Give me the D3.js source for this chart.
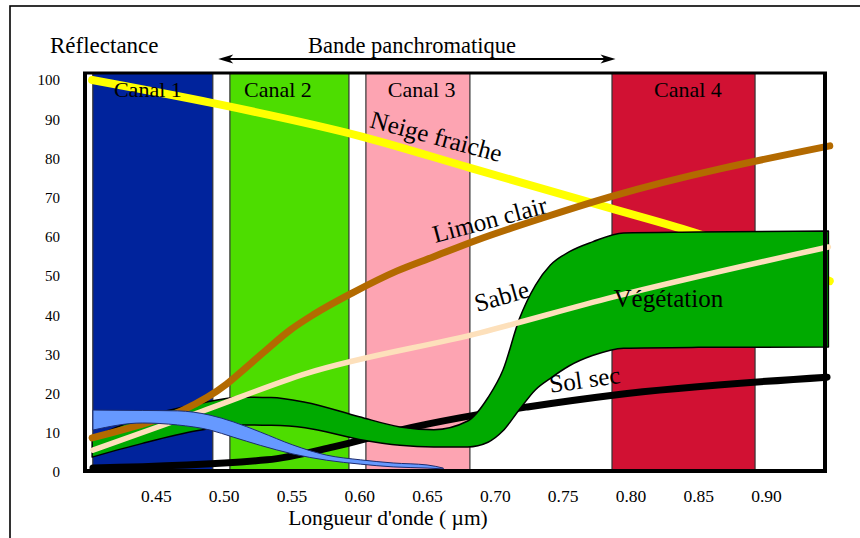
<!DOCTYPE html>
<html>
<head>
<meta charset="utf-8">
<script src="https://cdn.jsdelivr.net/npm/d3@7"></script>
<style>
  body { margin: 0; background: #fff; }
  svg text { font-family: "Liberation Serif", "Times New Roman", serif; fill: #000; }
</style>
</head>
<body>
<div id="chart"></div>
<script>
/** spectral bands (µm) */
let canalNames = ['Canal 1', 'Canal 2', 'Canal 3', 'Canal 4'];
let canalStart = [0.4035, 0.5046, 0.6049, 0.7864];
let canalEnd = [0.4920, 0.5924, 0.6816, 0.8919];
let canalLabelAt = [0.4441, 0.540, 0.646, 0.8424];
let canalColors = ['#00239c', '#4ddd00', '#fda4b2', '#d11133'];
let panchro = [0.496, 0.789];

let xTicks = [0.45, 0.50, 0.55, 0.60, 0.65, 0.70, 0.75, 0.80, 0.85, 0.90];
let yTicks = [0, 10, 20, 30, 40, 50, 60, 70, 80, 90, 100];

/** reflectance curves */
let neigeW = [0.403, 0.492, 0.6005, 0.6817, 0.785, 0.846, 0.947];
let neigeR = [100, 94.1, 85.7, 77.6, 67.3, 61.2, 48.7];

let limonW = [0.403, 0.433, 0.470, 0.502, 0.512, 0.529, 0.549, 0.566, 0.595, 0.628, 0.654, 0.687, 0.735, 0.785, 0.947];
let limonR = [8.7, 11.5, 15.8, 22.4, 25.3, 30.4, 36.2, 40.1, 45.7, 51.3, 54.8, 59.2, 64.8, 70.2, 83.2];

let sableW = [0.4036, 0.4826, 0.5607, 0.689, 0.787, 0.946];
let sableR = [5.6, 15.3, 25.1, 35.5, 44.6, 57.4];

let solW = [0.4036, 0.532, 0.581, 0.630, 0.674, 0.724, 0.787, 0.945];
let solR = [1.0, 3.1, 6.4, 10.7, 13.8, 16.6, 19.6, 24.2];

let vegW = [0.403, 0.44, 0.48, 0.512, 0.535, 0.56, 0.60, 0.63, 0.655, 0.68, 0.695, 0.706, 0.718, 0.73, 0.741, 0.755, 0.772, 0.795, 0.85, 0.946];
let vegHigh = [8.7, 13.9, 17.3, 19.1, 19.0, 17.8, 14.1, 11.5, 10.8, 13.0, 19.0, 26.0, 39.0, 47.7, 52.8, 56.2, 58.7, 61.0, 61.2, 61.5];
let vegLow = [3.8, 7.3, 10.5, 12.0, 11.9, 11.3, 8.3, 6.8, 6.4, 6.4, 7.6, 10.5, 15.9, 21.0, 23.9, 27.1, 29.7, 31.6, 31.8, 31.9];

let eauW = [0.4036, 0.44, 0.466, 0.49, 0.507, 0.527, 0.551, 0.576, 0.601, 0.625, 0.65, 0.662];
let eauHigh = [15.8, 15.7, 15.6, 14.5, 12.8, 10.2, 6.9, 4.3, 3.1, 2.3, 1.8, 1.0];
let eauLow = [10.7, 12.5, 12.0, 10.7, 8.9, 6.8, 4.6, 3.0, 2.0, 1.3, 1.0, 0.8];

let curveLabels = ['Neige fraiche', 'Limon clair', 'Sable', 'Végétation', 'Sol sec'];
let labelW = [0.607, 0.656, 0.687, 0.828, 0.741];
let labelR = [88.0, 58.4, 40.8, 42.1, 20.2];
let labelAngle = [15, -15, -16, 0, -8];

/** set up svg */
let width = 860;
let height = 538;
let plot = { left: 85, right: 825, top: 73, bottom: 471 };
let serif = '"Liberation Serif", "Times New Roman", serif';

let svg = d3.select('#chart')
  .append('svg')
  .attr('width', width)
  .attr('height', height);

// outer frame (only top and left edges show)
svg.append('rect')
  .attr('x', 10).attr('y', 6)
  .attr('width', 900).attr('height', 600)
  .attr('fill', 'none')
  .attr('stroke', '#000')
  .attr('stroke-width', 1.6);

/** scales */
let x = d3.scaleLinear().domain([0.397, 0.9457]).range([84, 828]);
let y = d3.scaleLinear().domain([0, 100]).range([472, 80]);

let zip = (ws, rs) => ws.map((w, i) => [w, rs[i]]);

// bands
svg.selectAll('.canal')
  .data(canalNames)
  .enter()
  .append('rect')
  .attr('class', 'canal')
  .attr('x', (d, i) => x(canalStart[i]))
  .attr('width', (d, i) => x(canalEnd[i]) - x(canalStart[i]))
  .attr('y', plot.top)
  .attr('height', plot.bottom - plot.top)
  .attr('fill', (d, i) => canalColors[i])
  .attr('stroke', '#333')
  .attr('stroke-width', 1.2);

/** curves */
let line = d3.line()
  .x(d => x(d[0]))
  .y(d => y(d[1]))
  .curve(d3.curveMonotoneX);

let band = d3.area()
  .x(d => x(d[0]))
  .y0(d => y(d[2]))
  .y1(d => y(d[1]))
  .curve(d3.curveMonotoneX);

let drawLine = function (ws, rs, color, w) {
  svg.append('path')
    .datum(zip(ws, rs))
    .attr('d', line)
    .attr('fill', 'none')
    .attr('stroke', color)
    .attr('stroke-width', w)
    .attr('stroke-linecap', 'round')
    .attr('stroke-linejoin', 'round');
}

drawLine(neigeW, neigeR, '#ffff00', 8);
drawLine(solW, solR, '#000', 7);

svg.append('path')
  .datum(vegW.map((w, i) => [w, vegHigh[i], vegLow[i]]))
  .attr('d', band)
  .attr('fill', '#00aa00')
  .attr('stroke', '#000')
  .attr('stroke-width', 1.5)
  .attr('stroke-linejoin', 'round');

drawLine(limonW, limonR, '#b36a00', 7);
drawLine(sableW, sableR, '#fde0bb', 5.5);

svg.append('path')
  .datum(eauW.map((w, i) => [w, eauHigh[i], eauLow[i]]))
  .attr('d', band)
  .attr('fill', '#6699ff')
  .attr('stroke', '#1c2c70')
  .attr('stroke-width', 1)
  .attr('stroke-linejoin', 'round');

/** plot frame */
svg.append('line')
  .attr('x1', plot.left - 2).attr('x2', plot.right + 2)
  .attr('y1', plot.top).attr('y2', plot.top)
  .attr('stroke', '#000').attr('stroke-width', 3);
svg.append('line')
  .attr('x1', plot.left).attr('x2', plot.left)
  .attr('y1', plot.top).attr('y2', plot.bottom + 2)
  .attr('stroke', '#000').attr('stroke-width', 4);
svg.append('line')
  .attr('x1', plot.right).attr('x2', plot.right)
  .attr('y1', plot.top).attr('y2', plot.bottom + 2)
  .attr('stroke', '#000').attr('stroke-width', 4);
svg.append('line')
  .attr('x1', plot.left - 2).attr('x2', plot.right + 2)
  .attr('y1', plot.bottom).attr('y2', plot.bottom)
  .attr('stroke', '#000').attr('stroke-width', 4);

// band labels sit over the curves
svg.selectAll('.canal-label')
  .data(canalNames)
  .enter()
  .append('text')
  .attr('class', 'canal-label')
  .attr('x', (d, i) => x(canalLabelAt[i]))
  .attr('y', 97)
  .attr('text-anchor', 'middle')
  .attr('font-family', serif)
  .style('font-size', '22px')
  .text(d => d);

/** axes */
let xAxis = svg.append('g')
  .attr('transform', 'translate(0,472)')
  .attr('font-family', serif)
  .call(d3.axisBottom(x).tickValues(xTicks).tickFormat(d3.format('.2f')).tickSize(0).tickPadding(18));
xAxis.attr('font-family', serif);
xAxis.select('.domain').remove();
xAxis.selectAll('text')
  .attr('font-family', serif)
  .style('font-size', '17.5px')
  .attr('fill', '#000');

let yAxis = svg.append('g')
  .attr('transform', 'translate(84,0)')
  .call(d3.axisLeft(y).tickValues(yTicks).tickSize(0).tickPadding(24));
yAxis.attr('font-family', serif);
yAxis.select('.domain').remove();
yAxis.selectAll('text')
  .attr('font-family', serif)
  .style('font-size', '15px')
  .attr('fill', '#000');

/** titles */
svg.append('text')
  .attr('x', 50).attr('y', 53)
  .attr('font-family', serif)
  .style('font-size', '23px')
  .text('Réflectance');

svg.append('text')
  .attr('x', 412).attr('y', 53)
  .attr('text-anchor', 'middle')
  .attr('font-family', serif)
  .style('font-size', '22.5px')
  .text('Bande panchromatique');

svg.append('text')
  .attr('x', 388).attr('y', 525)
  .attr('text-anchor', 'middle')
  .attr('font-family', serif)
  .style('font-size', '21.5px')
  .text("Longueur d'onde ( µm)");

// panchromatic arrow
let ax1 = x(panchro[0]);
let ax2 = x(panchro[1]);
svg.append('line')
  .attr('x1', ax1 + 4).attr('x2', ax2 - 4)
  .attr('y1', 59).attr('y2', 59)
  .attr('stroke', '#000').attr('stroke-width', 2);
let head = (tip, dir) => `M${tip},59 L${tip + dir * 15},54.5 L${tip + dir * 11},59 L${tip + dir * 15},63.5 Z`;
svg.append('path').attr('d', head(ax1, 1)).attr('fill', '#000');
svg.append('path').attr('d', head(ax2, -1)).attr('fill', '#000');

/** curve labels */
svg.selectAll('.curve-label')
  .data(curveLabels)
  .enter()
  .append('text')
  .attr('class', 'curve-label')
  .attr('text-anchor', (d, i) => labelAngle[i] === 0 ? 'middle' : 'start')
  .attr('transform', (d, i) => `translate(${x(labelW[i])},${y(labelR[i])}) rotate(${labelAngle[i]})`)
  .attr('font-family', serif)
  .style('font-size', '25px')
  .text(d => d);
</script>
</body>
</html>
